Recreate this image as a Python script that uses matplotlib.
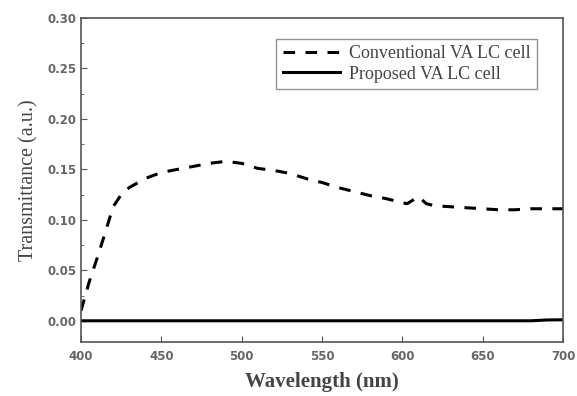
import matplotlib.pyplot as plt
from matplotlib.ticker import MultipleLocator

### data ###
wavelength = [400, 405, 410, 415, 420, 425, 430, 440, 450, 460, 470, 480, 490,
              500, 510, 520, 530, 540, 550, 560, 570, 580, 590, 600, 603, 610,
              615, 620, 630, 640, 650, 660, 670, 680, 690, 700]
conventional = [0.010, 0.038, 0.062, 0.087, 0.113, 0.125, 0.132, 0.141, 0.147,
                0.150, 0.153, 0.156, 0.158, 0.156, 0.151, 0.149, 0.146, 0.141,
                0.137, 0.132, 0.128, 0.124, 0.121, 0.117, 0.116, 0.123, 0.116,
                0.114, 0.113, 0.112, 0.111, 0.110, 0.110, 0.111, 0.111, 0.111]
prop_wl = [400, 500, 600, 680, 690, 700]
proposed = [0.0, 0.0, 0.0, 0.0, 0.0008, 0.001]

fig = plt.figure(figsize=(5.77, 3.96), dpi=100)
ax = fig.add_axes([0.1404, 0.1364, 0.8353, 0.8181])

ax.plot(wavelength, conventional, color='black', lw=2.2, dashes=(3.8, 3.4),
        label='Conventional VA LC cell')
ax.plot(prop_wl, proposed, color='black', lw=2.2, label='Proposed VA LC cell')

ax.set_xlim(400, 700)
ax.set_ylim(-0.021, 0.30)
ax.xaxis.set_major_locator(MultipleLocator(50))
ax.yaxis.set_major_locator(MultipleLocator(0.05))
ax.yaxis.set_minor_locator(MultipleLocator(0.025))
ax.tick_params(direction='in', which='both', colors='#555555', labelsize=8.5,
               labelcolor='#666666')
ax.tick_params(which='major', length=4)
ax.tick_params(which='minor', length=2.5)
ax.tick_params(axis='x', pad=6)
for lbl in ax.get_xticklabels() + ax.get_yticklabels():
    lbl.set_fontweight('bold')
ax.yaxis.set_major_formatter(plt.FormatStrFormatter('%.2f'))
for s in ax.spines.values():
    s.set_color('#555555')
    s.set_linewidth(1.2)

ax.set_xlabel('Wavelength (nm)', family='Liberation Serif', fontsize=15,
              fontweight='bold', color='#444444', labelpad=6)
ax.set_ylabel('Transmittance (a.u.)', family='Liberation Serif', fontsize=14.5,
              color='#444444', labelpad=6)

leg = ax.legend(loc='upper right', bbox_to_anchor=(0.962, 0.958),
                prop={'family': 'Liberation Serif', 'size': 13},
                frameon=True, fancybox=False, handlelength=3.2,
                borderpad=0.35, labelspacing=0.2, handletextpad=0.5,
                borderaxespad=0.4)
leg.get_frame().set_edgecolor('#777777')
leg.get_frame().set_linewidth(1.0)
for t in leg.get_texts():
    t.set_color('#444444')

fig.savefig('out.png', dpi=100)
